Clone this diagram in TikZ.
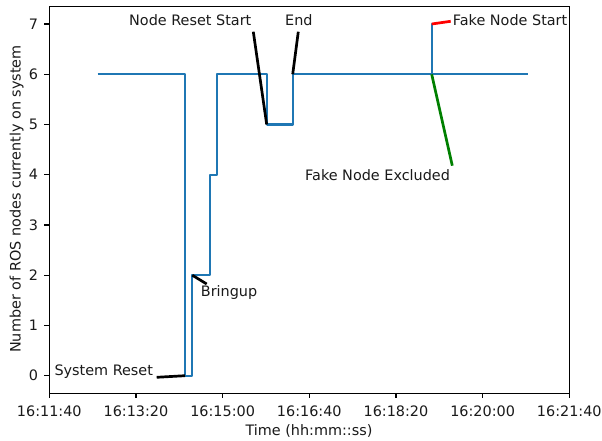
\documentclass[tikz,border=0pt]{standalone}
\usepackage{fontspec}
\setmainfont{DejaVu Sans}
\definecolor{tabblue}{HTML}{1F77B4}
\definecolor{notegreen}{HTML}{008000}
\definecolor{notered}{HTML}{FF0000}
\definecolor{inkgray}{HTML}{1A1A1A}
\tikzset{
  label text/.style={inner sep=0pt, text=inkgray, font=\fontsize{14.4}{17}\selectfont},
  axis frame/.style={draw=black, line width=1.15pt},
  tick mark/.style={draw=black, line width=1.15pt},
  series/.style={draw=tabblue, line width=2.1pt, line join=round},
  pointer/.style={line width=2.7pt, line cap=butt},
}
\begin{document}
\begin{tikzpicture}[x=1pt, y=-1pt]
\useasboundingbox (0,0) rectangle (602,441);
\fill[white] (0,0) rectangle (602,441);

% data step points (pixels: x = time, y = node count)
\coordinate (p0)  at (97.7,74.3);
\coordinate (p1)  at (185,74.3);
\coordinate (sysr) at (185,375.7);
\coordinate (p3)  at (192.3,375.7);
\coordinate (brup) at (192.3,275.2);
\coordinate (p5)  at (209.7,275.2);
\coordinate (p6)  at (209.7,174.7);
\coordinate (p7)  at (217.3,174.7);
\coordinate (p8)  at (217.3,74.3);
\coordinate (p9)  at (266.7,74.3);
\coordinate (nrs) at (266.7,124.5);
\coordinate (endp) at (292.7,124.5);
\coordinate (endt) at (292.7,74.3);
\coordinate (fne) at (431.7,74.3);
\coordinate (fns) at (431.7,24);
\coordinate (p15) at (528.3,74.3);

% series
\draw[series] (p0) -- (p1) -- (sysr) -- (p3) -- (brup) -- (p5) -- (p6) -- (p7)
  -- (p8) -- (p9) -- (nrs) -- (endp) -- (endt) -- (fne) -- (fns) -- (fne) -- (p15);

% axes frame
\draw[axis frame] (49.3,6.7) rectangle (569.3,393.3);

% y ticks
\foreach \v in {0,...,7} {
  \pgfmathsetmacro{\yy}{375.7-50.24*\v}
  \draw[tick mark] (44.3,\yy) -- (49.3,\yy);
  \node[label text, anchor=east] (yt\v) at (38.2,\yy) {\v};
}
% x ticks
\foreach \lab [count=\i from 0] in {16:11:40,16:13:20,16:15:00,16:16:40,16:18:20,16:20:00,16:21:40} {
  \pgfmathsetmacro{\xx}{49.3+86.667*\i}
  \draw[tick mark] (\xx,393.3) -- (\xx,398.3);
  \node[label text, anchor=base] (xt\i) at (\xx,416) {\lab};
}

% axis titles
\node[label text, anchor=base] (xlab) at (309,435) {Time (hh:mm::ss)};
\node[label text, anchor=base, rotate=90] (ylab) at (20.7,199) {Number of ROS nodes currently on system};

% annotations
\node[label text, anchor=base west] (tnrs) at (129,26) {Node Reset Start};
\node[label text, anchor=base west] (tend) at (285,26) {End};
\node[label text, anchor=base west] (tfns) at (452.7,26) {Fake Node Start};
\node[label text, anchor=base west] (tfne) at (305,180.7) {Fake Node Excluded};
\node[label text, anchor=base west] (tbr) at (200.7,296.7) {Bringup};
\node[label text, anchor=base west] (tsr) at (54.3,375) {System Reset};

\coordinate (anrs) at (253.3,31.7);
\coordinate (aend) at (298.3,31.7);
\coordinate (afns) at (450.7,21.3);
\coordinate (afne) at (452.3,165.7);
\coordinate (abr)  at (206.7,284);
\coordinate (asr)  at (156.7,377.3);

\draw[pointer, black] (anrs) -- (nrs);
\draw[pointer, black] (aend) -- (endt);
\draw[pointer, notered] (afns) -- (fns);
\draw[pointer, notegreen] (afne) -- (fne);
\draw[pointer, black] (abr) -- (brup);
\draw[pointer, black] (asr) -- (sysr);
\end{tikzpicture}
\end{document}
